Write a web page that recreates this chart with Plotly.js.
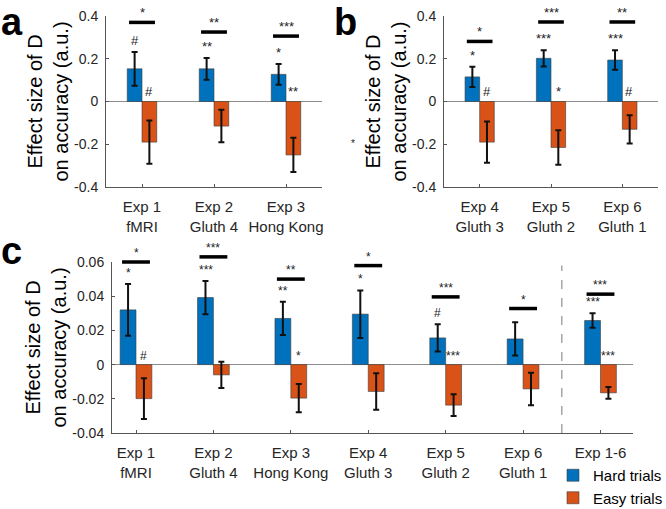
<!DOCTYPE html>
<html>
<head>
<meta charset="utf-8">
<script src="https://cdn.plot.ly/plotly-3.0.1.min.js"></script>
<style>
  html, body { margin: 0; padding: 0; background: #fff; }
  #chart { width: 666px; height: 509px; }
</style>
</head>
<body>
<div id="chart"></div>
<script>
// Panel a
const catsA = ["Exp 1<br>fMRI", "Exp 2<br>Gluth 4", "Exp 3<br>Hong Kong"];
const hardA = [0.153, 0.153, 0.127];
const hardErrA = [0.079, 0.051, 0.049];
const easyA = [-0.19, -0.115, -0.25];
const easyErrA = [0.101, 0.076, 0.08];
const sigA = [0.37, 0.325, 0.306];
const sigTxtA = ["*", "**", "***"];
const hardMarkA = ["#", "**", "*"];
const easyMarkA = ["#", "", "**"];

// Panel b
const catsB = ["Exp 4<br>Gluth 3", "Exp 5<br>Gluth 2", "Exp 6<br>Gluth 1"];
const hardB = [0.115, 0.202, 0.194];
const hardErrB = [0.047, 0.038, 0.046];
const easyB = [-0.19, -0.215, -0.13];
const easyErrB = [0.097, 0.081, 0.066];
const sigB = [0.281, 0.372, 0.372];
const sigTxtB = ["*", "***", "**"];
const hardMarkB = ["*", "***", "***"];
const easyMarkB = ["#", "*", "#"];

// Panel c
const catsC = ["Exp 1<br>fMRI", "Exp 2<br>Gluth 4", "Exp 3<br>Hong Kong", "Exp 4<br>Gluth 3",
  "Exp 5<br>Gluth 2", "Exp 6<br>Gluth 1", "Exp 1-6"];
const hardC = [0.032, 0.0392, 0.027, 0.0295, 0.0156, 0.015, 0.0258];
const hardErrC = [0.0152, 0.0097, 0.0097, 0.0139, 0.008, 0.0097, 0.0042];
const easyC = [-0.0199, -0.006, -0.0196, -0.0157, -0.0237, -0.0142, -0.0165];
const easyErrC = [0.0119, 0.0077, 0.0082, 0.0107, 0.0063, 0.0095, 0.0034];
const sigC = [0.06, 0.063, 0.05, 0.0579, 0.0396, 0.0328, 0.0412];
const sigTxtC = ["*", "***", "**", "*", "***", "*", "***"];
const hardMarkC = ["*", "***", "**", "*", "#", "", "***"];
const easyMarkC = ["#", "", "*", "", "***", "", "***"];

const yTicksAB = [-0.4, -0.2, 0, 0.2, 0.4];
const yTicksC = [-0.04, -0.02, 0, 0.02, 0.04, 0.06];

const seriesNames = ["Hard trials", "Easy trials"];
const blue = "#0072BD";
const orange = "#D95319";
const txtColor = "#262626";
const fontFam = "Liberation Sans, Arial, sans-serif";

const W = 666, H = 509;
// subplot boxes in pixels: [left, right, top, bottom]
const boxA = [106, 322, 16, 187];
const boxB = [444, 658, 16, 187];
const boxC = [112, 633, 262, 433];

const traces = [];
const shapes = [];
const annotations = [];

function addPanel(n, box, ticks, cats, hard, hardErr, easy, easyErr, sig, sigTxt, hardMark, easyMark, markSize, legend) {
  const xs = cats.map((c, i) => i + 1);
  const xa = "x" + (n === 1 ? "" : n);
  const ya = "y" + (n === 1 ? "" : n);
  const errStyle = { type: "data", visible: true, color: "#111", thickness: 2, width: 3 };
  // value -> paper fraction, so marks above the axis range are not hidden
  const y0 = 1 - box[3] / H, y1 = 1 - box[2] / H;
  const lo = ticks[0], hi = ticks[ticks.length - 1];
  const toPaper = (v) => y0 + (v - lo) / (hi - lo) * (y1 - y0);

  traces.push({
    type: "bar", x: xs, y: hard, name: seriesNames[0], xaxis: xa, yaxis: ya,
    legendgroup: "hard", showlegend: legend,
    marker: { color: blue, line: { color: "#3c3c3c", width: 0.6 } },
    error_y: Object.assign({ array: hardErr }, errStyle),
    hoverinfo: "y"
  });
  traces.push({
    type: "bar", x: xs, y: easy, name: seriesNames[1], xaxis: xa, yaxis: ya,
    legendgroup: "easy", showlegend: legend,
    marker: { color: orange, line: { color: "#3c3c3c", width: 0.6 } },
    error_y: Object.assign({ array: easyErr }, errStyle),
    hoverinfo: "y"
  });

  xs.forEach((x, i) => {
    // significance bar between hard and easy
    shapes.push({
      type: "line", xref: xa, yref: "paper",
      x0: x - 0.18, x1: x + 0.18, y0: toPaper(sig[i]), y1: toPaper(sig[i]),
      line: { color: "#000", width: 3.5 }
    });
    annotations.push({
      xref: xa, yref: "paper", x: x, y: toPaper(sig[i]), text: sigTxt[i], showarrow: false,
      yanchor: "bottom", yshift: 0, font: { size: markSize, color: "#222" }
    });
    if (hardMark[i]) {
      annotations.push({
        xref: xa, yref: "paper", x: x - 0.1, y: toPaper(hard[i] + hardErr[i]), text: hardMark[i],
        showarrow: false, yanchor: "bottom", yshift: 2, font: { size: markSize, color: "#222" }
      });
    }
    if (easyMark[i]) {
      annotations.push({
        xref: xa, yref: "paper", x: x + 0.1, y: toPaper(0), text: easyMark[i], showarrow: false,
        yanchor: "bottom", yshift: 0, font: { size: markSize, color: "#222" }
      });
    }
  });
}

addPanel(1, boxA, yTicksAB, catsA, hardA, hardErrA, easyA, easyErrA, sigA, sigTxtA, hardMarkA, easyMarkA, 13, false);
addPanel(2, boxB, yTicksAB, catsB, hardB, hardErrB, easyB, easyErrB, sigB, sigTxtB, hardMarkB, easyMarkB, 13, false);
addPanel(3, boxC, yTicksC, catsC, hardC, hardErrC, easyC, easyErrC, sigC, sigTxtC, hardMarkC, easyMarkC, 12, true);

// dashed divider before the pooled group
shapes.push({
  type: "line", xref: "x3", yref: "y3 domain",
  x0: catsC.length - 0.5, x1: catsC.length - 0.5, y0: 0, y1: 0.98,
  line: { color: "#a6a6a6", width: 1.5, dash: "dash" }
});

// panel letters
[["a", 0.0, 1.0], ["b", 0.5, 1.0], ["c", 0.0, 0.55]].forEach(([t, x, y]) => {
  annotations.push({
    xref: "paper", yref: "paper", x: x, y: y, text: "<b>" + t + "</b>", showarrow: false,
    xanchor: "left", yanchor: "top", borderpad: 0, font: { size: 38, color: "#000" }
  });
});
// stray asterisk left of panel b label
annotations.push({
  xref: "paper", yref: "paper", x: 353 / W, y: 1 - 136 / H, text: "*", showarrow: false,
  font: { size: 10, color: "#222" }
});

function xAxis(box, range, cats, anchor) {
  return {
    domain: [box[0] / W, box[1] / W], range: range, anchor: anchor, automargin: false,
    tickmode: "array", tickvals: cats.map((c, i) => i + 1), ticktext: cats,
    ticks: "inside", ticklen: 3, tickcolor: "#555",
    showline: true, linecolor: "#555", linewidth: 1,
    showgrid: false, zeroline: false, fixedrange: true,
    ticklabelstandoff: 6,
    tickfont: { size: 15, color: txtColor, family: fontFam }
  };
}
function yAxis(box, ticks, anchor) {
  return {
    domain: [1 - box[3] / H, 1 - box[2] / H], range: [ticks[0], ticks[ticks.length - 1]],
    anchor: anchor, automargin: false,
    tickmode: "array", tickvals: ticks, ticktext: ticks.map(String),
    ticks: "inside", ticklen: 3, tickcolor: "#555",
    showline: true, linecolor: "#555", linewidth: 1,
    showgrid: false, zeroline: true, zerolinecolor: "#8c8c8c", zerolinewidth: 1,
    fixedrange: true, ticklabelstandoff: 4,
    tickfont: { size: 14, color: txtColor, family: fontFam },
    title: { text: "Effect size of D<br>on accuracy (a.u.)", standoff: 0,
      font: { size: 20, color: "#000", family: fontFam } }
  };
}

const layout = {
  width: W, height: H,
  margin: { l: 0, r: 0, t: 0, b: 0, pad: 0, autoexpand: false },
  paper_bgcolor: "#fff", plot_bgcolor: "#fff",
  font: { family: fontFam, color: txtColor },
  barmode: "group", bargap: 0.59, bargroupgap: 0,
  xaxis: xAxis(boxA, [0.5, 3.5], catsA, "y"),
  yaxis: yAxis(boxA, yTicksAB, "x"),
  xaxis2: xAxis(boxB, [0.5, 3.5], catsB, "y2"),
  yaxis2: yAxis(boxB, yTicksAB, "x2"),
  xaxis3: xAxis(boxC, [0.69, 7.42], catsC, "y3"),
  yaxis3: yAxis(boxC, yTicksC, "x3"),
  showlegend: true,
  legend: {
    x: 553 / W, y: 1 - 459 / H, xanchor: "left", yanchor: "top",
    font: { size: 15, color: "#000", family: fontFam },
    bgcolor: "rgba(0,0,0,0)", tracegroupgap: 0
  },
  shapes: shapes,
  annotations: annotations
};

Plotly.newPlot("chart", traces, layout, { displayModeBar: false, staticPlot: true });
</script>
</body>
</html>
